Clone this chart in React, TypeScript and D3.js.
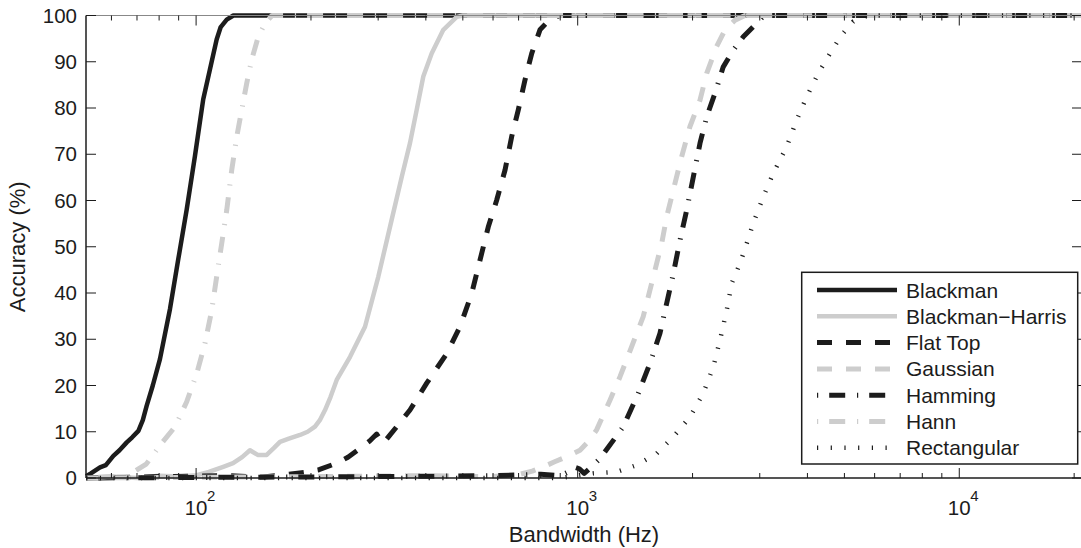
import React from "react";
import * as d3 from "d3";

// ---- data (Hz, accuracy %) ----
const blackman: [number, number][] = [
  [51.5, 0.4], [53, 1.0], [56, 2.3], [58, 2.8], [60.7, 4.8], [63, 6.0], [65.8, 7.7], [68, 8.8],
  [70.6, 10.2], [72.5, 12.5], [74.2, 15.6], [77, 20], [80.4, 25.7], [85.4, 36.5], [89.8, 47.3],
  [94.5, 58.1], [99.3, 69.6], [101.5, 75], [104.4, 81.9], [108.7, 88.3], [113.2, 94.8],
  [116, 97.5], [120.3, 99.1], [125.2, 100], [20900, 100],
];
const blackmanHarris: [number, number][] = [
  [51.5, 0], [60, 0.3], [70, 0], [80, 0.5], [90, 0.3], [100.4, 0.6], [108, 1.3], [117.8, 2.4],
  [125, 3.2], [132, 4.5], [138.4, 6.0], [145, 5.0], [153.1, 5.0], [160, 6.5], [165.9, 7.8],
  [175, 8.5], [187.2, 9.3], [196, 10], [204.9, 11.1], [211, 12.5], [217.7, 14.7], [225, 17.5],
  [233.6, 21.2], [253.2, 26.2], [277.1, 32.7], [300.2, 43.5], [322.2, 54.3], [345.8, 65.1],
  [363.5, 72.4], [378.5, 79.6], [393.9, 86.8], [414.3, 91.8], [444.5, 96.9], [481.9, 99.7],
  [500.6, 100], [20900, 100],
];
const flatTop: [number, number][] = [
  [51.5, 0], [80, 0.3], [120, 0.5], [150, 0.2], [175, 0.8], [194.9, 1.3], [210, 1.8],
  [233.6, 3.2], [250, 4.5], [268.9, 6.4], [285, 8], [297.3, 9.5], [303, 8.5], [309.4, 7.5],
  [320, 9], [335.6, 11.1], [363.5, 14.7], [402.1, 20.5], [453.7, 26.9], [491.5, 32.7],
  [527.6, 39.9], [554.6, 47.1], [583.1, 54.3], [613.5, 60.1], [645.1, 66.6], [671.4, 73.8],
  [698.8, 79.6], [727.8, 86.1], [757.9, 91.8], [796.4, 96.9], [846, 99.2], [898, 100],
  [20900, 100],
];
const gaussian: [number, number][] = [
  [51.5, 0], [200, 0.3], [400, 0.5], [600, 0.3], [706, 0.8], [760, 1.5], [812.5, 2.4],
  [870, 3.5], [936, 4.6], [1014, 6.0], [1070, 8], [1121, 10.4], [1215, 16.8], [1291, 21.9],
  [1385, 28.4], [1485, 34.9], [1578, 43.5], [1660, 50.7], [1711, 56.5], [1781, 62.3],
  [1873, 69.5], [1969, 76.0], [2092, 81.7], [2178, 87.5], [2313, 93.3], [2432, 96.9],
  [2584, 99.0], [2744, 100], [20900, 100],
];
const hamming: [number, number][] = [
  [51.5, 0], [300, 0.3], [600, 0.5], [800, 0.8], [900, 0.5], [955, 1.5], [985, 2.3],
  [1010, 2.0], [1040, 1.0], [1090, 2.5], [1144, 4.2], [1317, 11.1], [1441, 18.3],
  [1547, 24.8], [1643, 31.3], [1711, 37.8], [1781, 44.2], [1854, 51.4], [1930, 57.9],
  [2009, 65.1], [2092, 72.4], [2178, 78.1], [2290, 83.2], [2407, 88.9], [2557, 92.5],
  [2716, 95.4], [2885, 97.6], [2974, 98.7], [3080, 100], [20900, 100],
];
const hann: [number, number][] = [
  [51.5, 0], [60, 0.3], [66, 0.2], [69.2, 1.5], [74, 3.0], [81.2, 7.5], [88.1, 11.1],
  [94.5, 16.5], [100.4, 22.6], [105.5, 29.1], [109.9, 36.3], [113.2, 43.5], [116.7, 50.7],
  [120.3, 57.9], [124, 66.6], [127.8, 73.8], [131.7, 79.6], [135.7, 85.3], [139.8, 90.4],
  [145.5, 95.4], [151.6, 98.3], [158.1, 100], [20900, 100],
];
const rectangular: [number, number][] = [
  [51.5, 0], [900, 0], [1014, 0.6], [1097, 1.0], [1265, 1.3], [1428, 2.8], [1611, 5.3],
  [1781, 8.9], [1969, 13.2], [2133, 18.3], [2266, 24.0], [2360, 29.8], [2458, 36.3],
  [2533, 42.1], [2663, 46.4], [2773, 50.7], [2885, 55.1], [3065, 60.8], [3255, 65.9],
  [3529, 71.6], [3749, 77.4], [3982, 82.4], [4271, 87.5], [4584, 91.8], [4918, 95.8],
  [5275, 98.7], [5765, 100], [20900, 100],
];

const seriesNames = ["Blackman", "Blackman\u2212Harris", "Flat Top", "Gaussian", "Hamming", "Hann", "Rectangular"];
const seriesData = [blackman, blackmanHarris, flatTop, gaussian, hamming, hann, rectangular];
const yTicks = [0, 10, 20, 30, 40, 50, 60, 70, 80, 90, 100];
const xMajorExp = [2, 3, 4];
const xLabel = "Bandwidth (Hz)";
const yLabel = "Accuracy (%)";

const BLACK = "#1c1c1c";
const GRAY = "#cdcdcd";
const styles = [
  { color: BLACK, dash: "none", w: 4.5 },
  { color: GRAY, dash: "none", w: 4.5 },
  { color: BLACK, dash: "15 14", w: 5 },
  { color: GRAY, dash: "15 14", w: 5 },
  { color: BLACK, dash: "1.2 11 16 11.8", w: 5 },
  { color: GRAY, dash: "1.2 11 16 11.8", w: 5 },
  { color: BLACK, dash: "1.2 12.5", w: 4.5 },
];

const FONT = "'Liberation Sans', Arial, Helvetica, sans-serif";

export default function App() {
  const W = 1081, H = 548;
  const left = 86, right = 1082, top = 15.5, bottom = 478;
  const x = d3.scaleLog().domain([51.46, 20970]).range([left, right]);
  const y = d3.scaleLinear().domain([0, 100]).range([bottom, top]);
  const line = d3.line<[number, number]>().x(d => x(d[0])).y(d => y(d[1]));

  const minor: number[] = [];
  for (let e = 1; e <= 4; e++) {
    for (let m = 2; m <= 9; m++) {
      const v = m * Math.pow(10, e);
      if (v > 51.46 && v < 20970) minor.push(v);
    }
  }

  const legX = 801.7, legY = 272.3, legW = 276, legH = 191.7;
  const rowY0 = 290, rowDy = 26.3;

  return (
    <svg width={W} height={H} style={{ position: "absolute", left: 0, top: 0, background: "#fff" }}
      fontFamily={FONT}>
      <rect x={0} y={0} width={W} height={H} fill="#fff" />
      {/* data lines */}
      {seriesData.map((d, i) => (
        <path key={i} d={line(d) || ""} fill="none" stroke={styles[i].color}
          strokeWidth={styles[i].w} strokeDasharray={styles[i].dash}
          strokeLinejoin="round" strokeLinecap="butt" />
      ))}
      {/* axes box */}
      <g stroke={BLACK} strokeWidth={1.5} fill="none">
        <line x1={left} y1={top} x2={left} y2={bottom} />
        <line x1={left} y1={bottom} x2={right} y2={bottom} />
        <line x1={left} y1={top} x2={right} y2={top} stroke="#888" strokeWidth={1} />
        <line x1={right} y1={top} x2={right} y2={bottom} />
      </g>
      {/* ticks */}
      <g stroke={BLACK} strokeWidth={1}>
        {yTicks.map(t => (
          <g key={t}>
            <line x1={left} x2={left + 10} y1={y(t)} y2={y(t)} />
            <line x1={right} x2={right - 10} y1={y(t)} y2={y(t)} />
          </g>
        ))}
        {xMajorExp.map(e => (
          <g key={e}>
            <line x1={x(Math.pow(10, e))} x2={x(Math.pow(10, e))} y1={bottom} y2={bottom - 10} />
            <line x1={x(Math.pow(10, e))} x2={x(Math.pow(10, e))} y1={top} y2={top + 10} />
          </g>
        ))}
        {minor.map(v => (
          <g key={v}>
            <line x1={x(v)} x2={x(v)} y1={bottom} y2={bottom - 5} />
            <line x1={x(v)} x2={x(v)} y1={top} y2={top + 5} />
          </g>
        ))}
      </g>
      {/* y tick labels */}
      <g fontSize={20.5} fill={BLACK} textAnchor="end">
        {yTicks.map(t => (
          <text key={t} x={77} y={y(t) + 7}>{t}</text>
        ))}
      </g>
      {/* x tick labels */}
      <g fill={BLACK}>
        {xMajorExp.map(e => (
          <g key={e}>
            <text x={x(Math.pow(10, e))} y={515} fontSize={20.5} textAnchor="middle">10</text>
            <text x={x(Math.pow(10, e)) + 11} y={501} fontSize={15}>{e}</text>
          </g>
        ))}
      </g>
      <text x={(left + right) / 2} y={542} fontSize={22} textAnchor="middle" fill={BLACK}>{xLabel}</text>
      <text transform={`translate(25,${(top + bottom) / 2}) rotate(-90)`} fontSize={22} textAnchor="middle" fill={BLACK}>{yLabel}</text>
      {/* legend */}
      <rect x={legX} y={legY} width={legW} height={legH} fill="#fff" stroke={BLACK} strokeWidth={1.5} />
      {seriesNames.map((n, i) => {
        const ry = rowY0 + i * rowDy;
        return (
          <g key={n}>
            <line x1={817} x2={897} y1={ry} y2={ry} stroke={styles[i].color} strokeWidth={styles[i].w}
              strokeDasharray={styles[i].dash} />
            <text x={906} y={ry + 7.5} fontSize={21} fill={BLACK}>{n}</text>
          </g>
        );
      })}
    </svg>
  );
}
